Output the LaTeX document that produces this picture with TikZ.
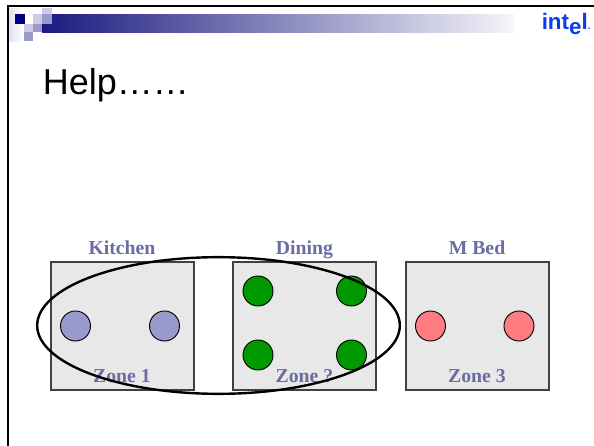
\documentclass[tikz,border=0pt]{standalone}
\usepackage{fontspec}
\setmainfont{Liberation Serif}
\newfontfamily\arialfont{Liberation Sans}
\usetikzlibrary{positioning,shapes.geometric}
\definecolor{BarNavy}{RGB}{26,26,128}
\definecolor{BarMid}{RGB}{170,170,195}
\definecolor{BarEnd}{RGB}{245,245,250}
\definecolor{SquareNavy}{RGB}{0,0,128}
\definecolor{SquareMid}{RGB}{153,153,204}
\definecolor{SquareLight}{RGB}{204,204,232}
\definecolor{LogoBlue}{RGB}{10,60,240}
\definecolor{ZoneGrey}{RGB}{232,232,232}
\definecolor{ZoneText}{RGB}{107,107,165}
\definecolor{LampBlue}{RGB}{153,153,204}
\definecolor{LampGreen}{RGB}{0,153,0}
\definecolor{LampRed}{RGB}{255,124,128}
\tikzset{
  zonebox/.style={draw=black!75,fill=ZoneGrey,line width=0.8pt,inner sep=0pt,
    minimum width=107.25pt,minimum height=96pt},
  zonelabel/.style={text=ZoneText,inner sep=0pt,anchor=base,font=\fontsize{14.8}{16}\selectfont\bfseries},
  lamp/.style={circle,draw=black,line width=0.7pt,inner sep=0pt,minimum size=22.5pt},
  bluelamp/.style={lamp,fill=LampBlue},
  greenlamp/.style={lamp,fill=LampGreen},
  redlamp/.style={lamp,fill=LampRed},
  logotext/.style={text=LogoBlue,inner sep=0pt,anchor=base west,font=\arialfont\bfseries\fontsize{16.8}{18}\selectfont}
}
\begin{document}
\begin{tikzpicture}[x=0.75pt,y=-0.75pt]
  \useasboundingbox (0,0) rectangle (594,446);
  % header
  \shade[left color=SquareLight!60,right color=white] (9,8) rectangle (24,41);
  \shade[left color=BarNavy,middle color=BarMid,right color=BarEnd] (42,14) rectangle (514,32);
  \fill[SquareNavy] (15,14) rectangle (25,23.5);
  \fill[SquareLight] (33,14) rectangle (42,23.5);
  \fill[SquareMid] (42,14) rectangle (52,23.5);
  \fill[SquareLight] (42,8) rectangle (52,14);
  \fill[SquareLight] (24,23.5) rectangle (33,32);
  \fill[SquareMid] (33,23.5) rectangle (42,32);
  \fill[SquareMid] (24,32) rectangle (33,41);
  \draw[line width=1.8pt] (8,446) -- (8,6) -- (594,6);
  \node[logotext] (logo) at (541.5,30) {int\raisebox{-3pt}{e}l\fontsize{7}{8}\selectfont.};
  \node[inner sep=0pt,anchor=base west,font=\arialfont\fontsize{27}{30}\selectfont] (title) at (42.5,94) {Help……};
  % zones
  \node[zonebox] (zone1) at (122.5,326) {};
  \node[zonebox] (zone2) at (304.5,326) {};
  \node[zonebox] (zone3) at (477.5,326) {};
  \node[zonelabel] (kitchen) at (122,254) {Kitchen};
  \node[zonelabel] (dining) at (304.5,254) {Dining};
  \node[zonelabel] (mbed) at (477,254) {M Bed};
  \node[zonelabel] (label1) at (122,382) {Zone 1};
  \node[zonelabel] (label2) at (304.5,382) {Zone ?};
  \node[zonelabel] (label3) at (477,382) {Zone 3};
  % lamps
  \node[bluelamp] (k1) at (75.5,326) {};
  \node[bluelamp] (k2) at (164.5,326) {};
  \node[greenlamp] (d1) at (258,291) {};
  \node[greenlamp] (d2) at (258,355) {};
  \node[greenlamp] (d3) at (351.5,291) {};
  \node[greenlamp] (d4) at (351.5,355) {};
  \node[redlamp] (m1) at (430.5,326) {};
  \node[redlamp] (m2) at (519,326) {};
  % group
  \node[ellipse,draw=black,line width=1.8pt,inner sep=0pt,minimum width=272pt,minimum height=102.5pt] (group) at (218.5,325.5) {};
\end{tikzpicture}
\end{document}
